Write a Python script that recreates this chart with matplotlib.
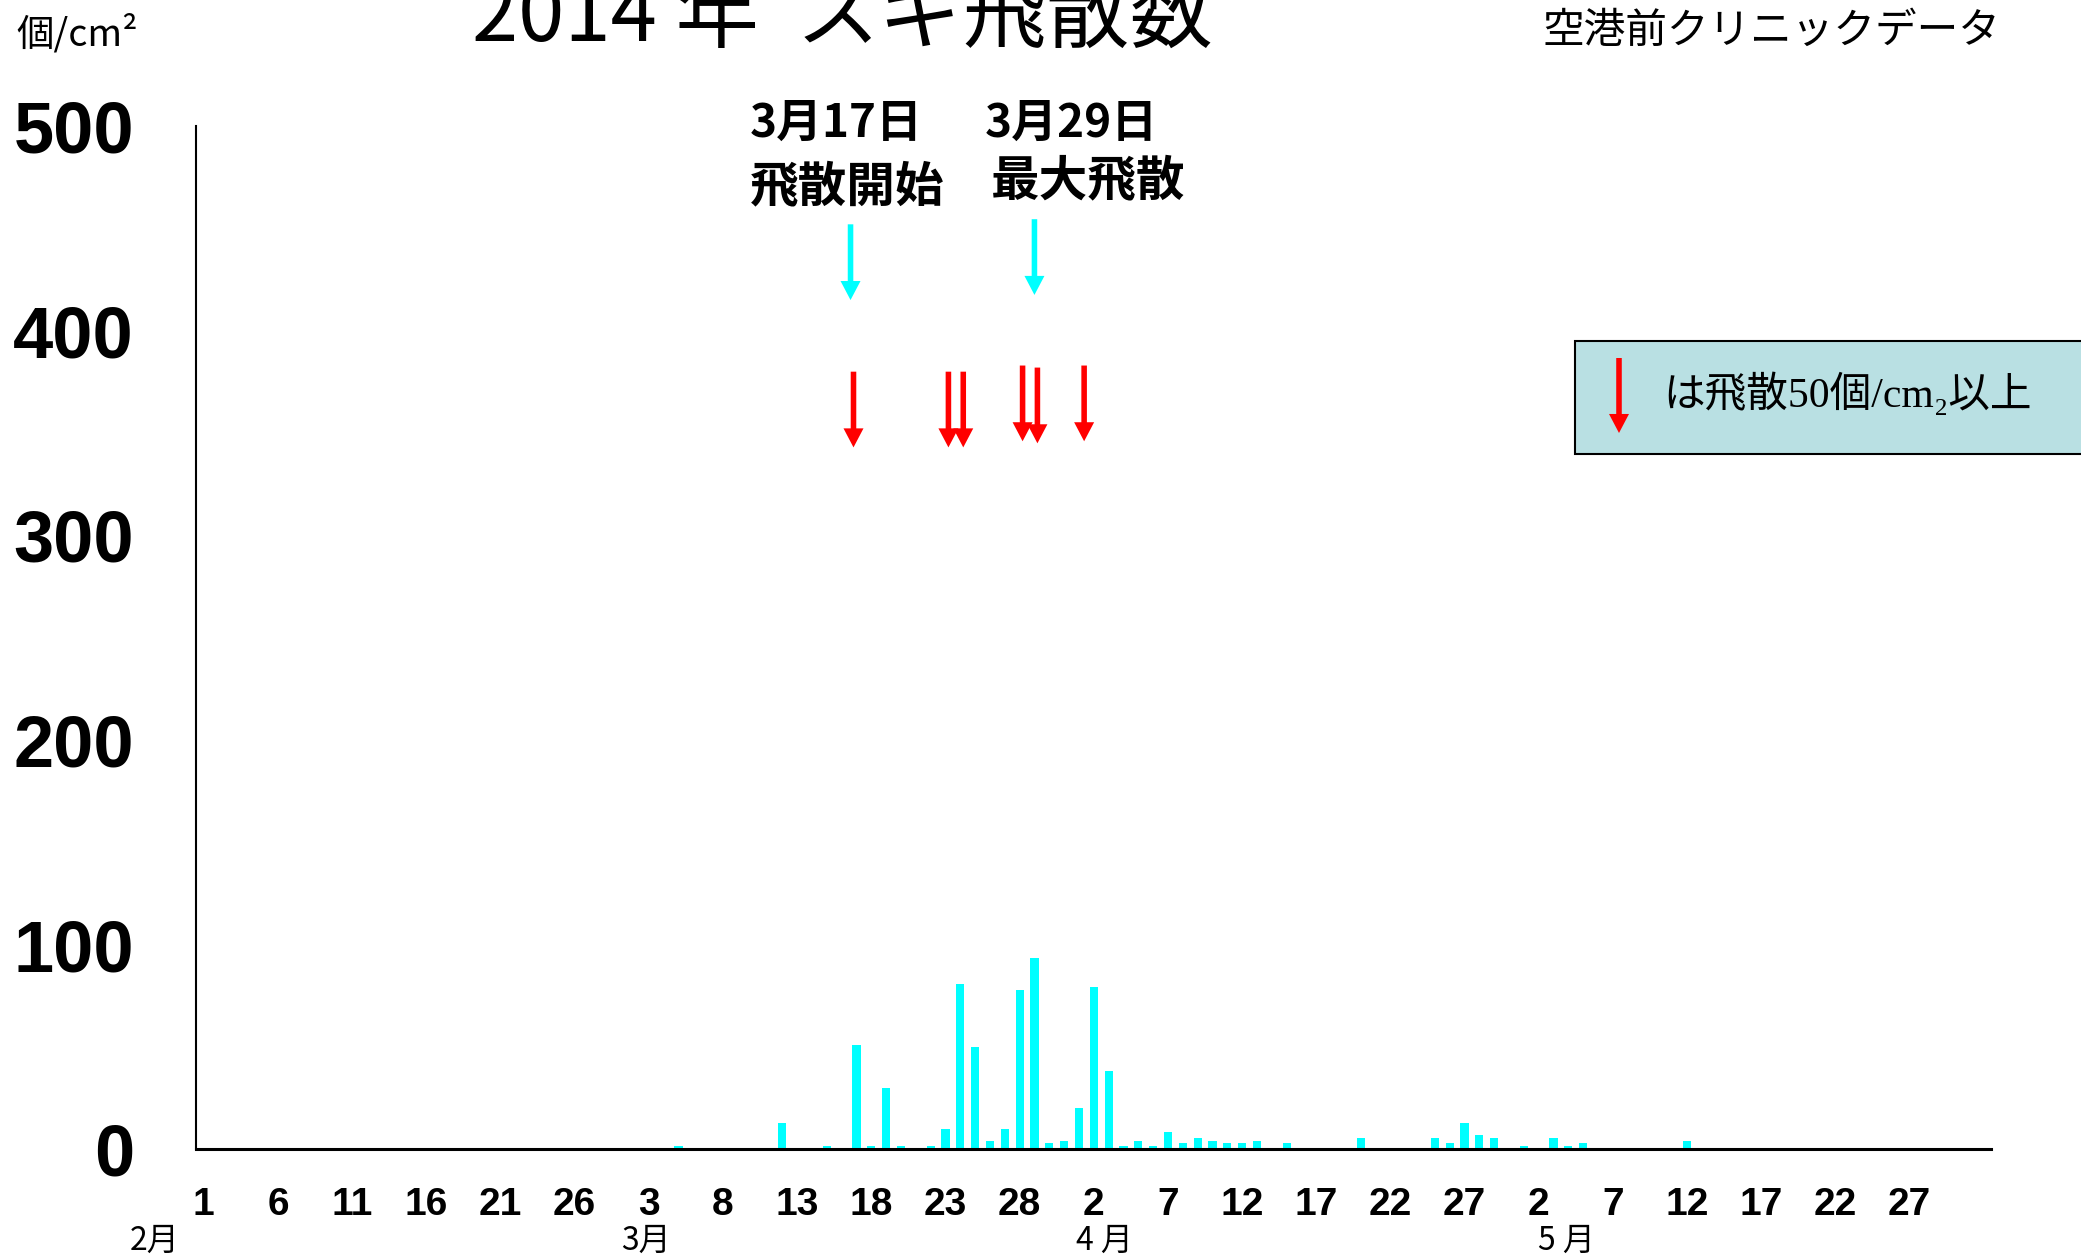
import numpy as np
import pandas as pd
import matplotlib
matplotlib.use('Agg')
import matplotlib.pyplot as plt
from matplotlib.patches import Rectangle, FancyArrowPatch

plt.rcParams['font.family'] = ['Noto Sans CJK JP', 'DejaVu Sans']

# daily pollen counts (個/cm2), Feb 1 .. Jun 1 2014
start_date = '2014-02-01'
end_date = '2014-06-01'
count_dates = ['03-05', '03-12', '03-15', '03-17', '03-18', '03-19', '03-20', '03-22',
               '03-23', '03-24', '03-25', '03-26', '03-27', '03-28', '03-29', '03-30',
               '03-31', '04-01', '04-02', '04-03', '04-04', '04-05', '04-06', '04-07',
               '04-08', '04-09', '04-10', '04-11', '04-12', '04-13', '04-15', '04-20',
               '04-25', '04-26', '04-27', '04-28', '04-29', '05-01', '05-03', '05-04',
               '05-05', '05-12']
counts = [1.5, 13, 1.5, 51, 1.5, 30, 1.5, 1.5,
          10, 81, 50, 4, 10, 78, 93.5, 3,
          4, 20, 79.5, 38.5, 1.5, 4, 1.5, 8.5,
          3, 5.5, 4, 3, 3, 4, 3, 5.5,
          5.5, 3, 13, 7, 5.5, 1.5, 5.5, 1.5,
          3, 4]

y_ticks = [0, 100, 200, 300, 400, 500]
month_labels = ['2月', '3月', '4 月', '5 月']
month_label_x = [-3.3, 29.8, 60.7, 91.9]

# arrows marking days with >= 50 個/cm2 (x in day index, y in counts)
red_arrow_x = [43.8, 50.2, 51.2, 55.2, 56.2, 59.35]
red_arrow_tail = [380, 380, 380, 383, 382, 383]
red_arrow_tip = [343, 343, 343, 346, 345, 346]

# start of season / maximum
cyan_arrow_x = [43.6, 56.0]
cyan_arrow_tail = [452, 454.5]
cyan_arrow_tip = [415, 417.5]
note_dates = ['3月17日', '3月29日']
note_date_x = [42.6, 58.5]
note_words = ['飛散開始', '最大飛散']
note_word_x = [43.4, 59.6]
note_word_y = [470, 473]

days = pd.date_range(start_date, end_date)
series = pd.Series(0.0, index=days)
for d, c in zip(count_dates, counts):
    series[pd.Timestamp('2014-' + d)] = c
x = np.arange(len(days))

fig = plt.figure(figsize=(20.81, 12.57), dpi=100)
ax = fig.add_axes([0.0944, 0.0856, 0.8624, 0.8141])

ax.bar(x, series.values, width=0.55, color='#00FFFF', linewidth=0)

ax.set_xlim(-0.5, len(days) - 0.5)
ax.set_ylim(0, 500)
for s in ['top', 'right']:
    ax.spines[s].set_visible(False)
ax.spines['left'].set_linewidth(1.5)
ax.spines['bottom'].set_linewidth(2.2)

ax.set_yticks(y_ticks)
ax.set_yticklabels([str(v) for v in y_ticks], fontsize=52, fontweight='bold',
                   family='Liberation Sans')
tick_pos = list(range(0, 116, 5))
ax.set_xticks(tick_pos)
ax.set_xticklabels([str(days[i].day) for i in tick_pos], fontsize=28,
                   fontweight='bold', family='Liberation Sans')
ax.tick_params(axis='y', length=0, pad=45)
ax.tick_params(axis='x', length=0, pad=27)

trans = ax.get_xaxis_transform()
for lab, mx in zip(month_labels, month_label_x):
    ax.text(mx, -0.089, lab, transform=trans, ha='center', va='center',
            fontsize=23, clip_on=False)

arrow_style = 'simple,head_length=1.37,head_width=1.44,tail_width=0.4'
for ax_x, tail, tip in zip(red_arrow_x, red_arrow_tail, red_arrow_tip):
    ax.annotate('', xy=(ax_x, tip), xytext=(ax_x, tail), annotation_clip=False,
                arrowprops=dict(arrowstyle=arrow_style, mutation_scale=10,
                                color='red', lw=0, shrinkA=0, shrinkB=0))
for ax_x, tail, tip in zip(cyan_arrow_x, cyan_arrow_tail, cyan_arrow_tip):
    ax.annotate('', xy=(ax_x, tip), xytext=(ax_x, tail), annotation_clip=False,
                arrowprops=dict(arrowstyle=arrow_style, mutation_scale=10,
                                color='#00FFFF', lw=0, shrinkA=0, shrinkB=0))

for txt, tx in zip(note_dates, note_date_x):
    ax.text(tx, 501, txt, ha='center', va='center', fontsize=33,
            fontweight='bold', clip_on=False)
for txt, tx, ty in zip(note_words, note_word_x, note_word_y):
    ax.text(tx, ty, txt, ha='center', va='center', fontsize=35,
            fontweight='bold', clip_on=False)

# titles
fig.text(843 / 2081, 1 - 40 / 1257, '2014 年  スギ飛散数', ha='center',
         va='baseline', fontsize=60)
fig.text(16 / 2081, 1 - 35 / 1257, '個/cm²', ha='left', va='center', fontsize=27)
fig.text(1771 / 2081, 1 - 31 / 1257, '空港前クリニックデータ', ha='center',
         va='center', fontsize=30)

# legend box
fig.patches.append(Rectangle((1575 / 2081, 1 - 454 / 1257), 0.3, 113 / 1257,
                             transform=fig.transFigure, facecolor='#B9E0E3',
                             edgecolor='black', linewidth=1.5, zorder=1))
fig.add_artist(FancyArrowPatch(
    (1619 / 2081, 1 - 358 / 1257), (1619 / 2081, 1 - 433 / 1257),
    transform=fig.transFigure, arrowstyle=arrow_style, mutation_scale=10,
    color='red', lw=0, shrinkA=0, shrinkB=0, zorder=5))
fig.text(1663 / 2081, 1 - 394 / 1257, 'は飛散50個/cm₂以上', ha='left', va='center',
         fontsize=30, family=['Liberation Serif', 'Noto Sans CJK JP', 'DejaVu Sans'])

fig.savefig('out.png', dpi=100)
